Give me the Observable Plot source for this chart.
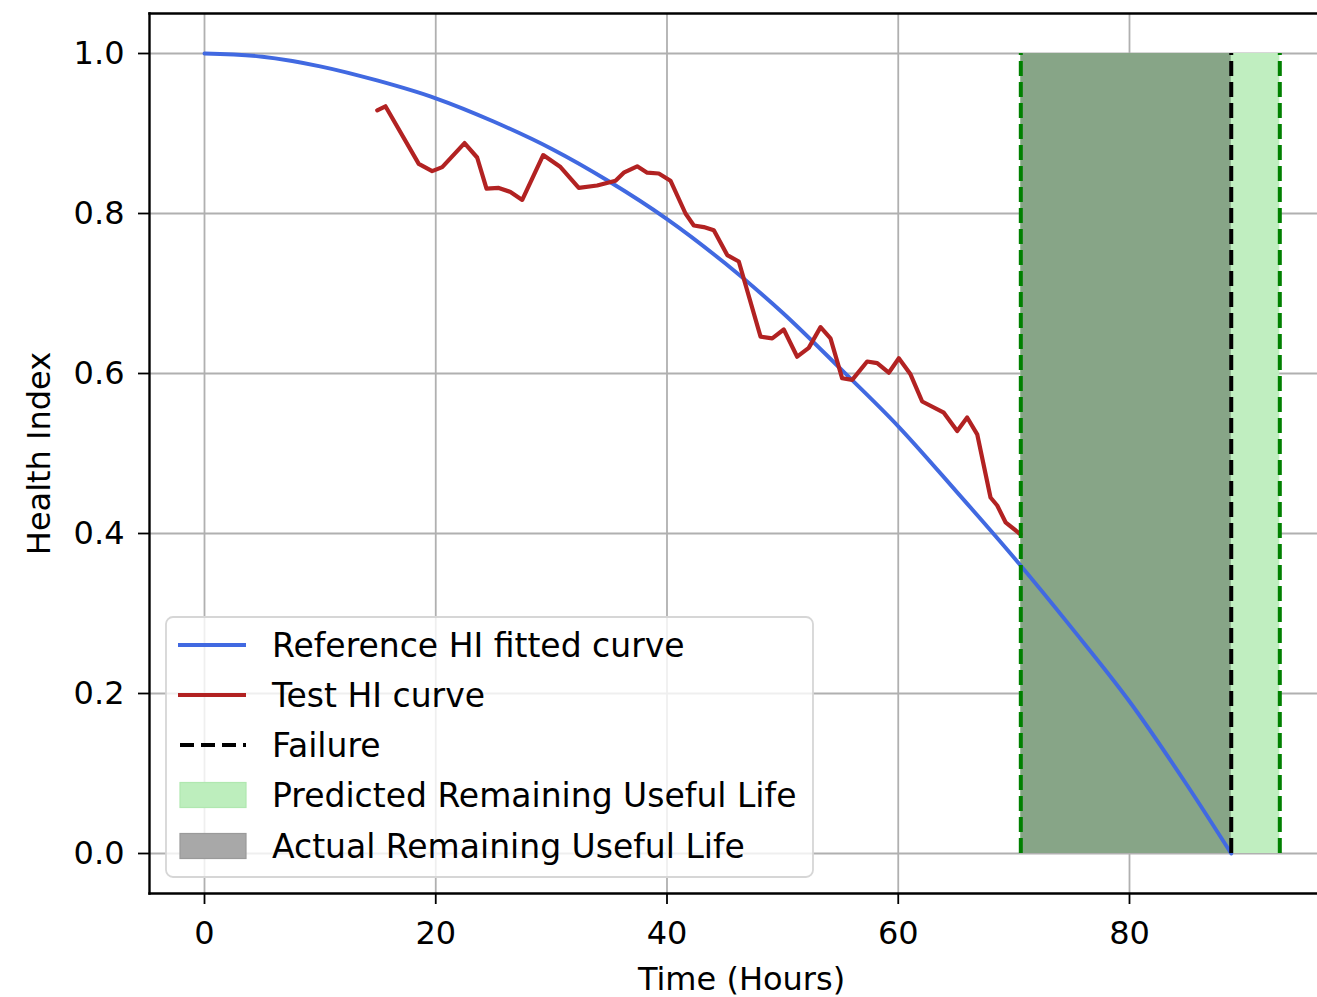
<!DOCTYPE html>
<html>
<head>
<meta charset="utf-8">
<script src="https://cdn.jsdelivr.net/npm/d3@7"></script>
<script src="https://cdn.jsdelivr.net/npm/@observablehq/plot@0.6"></script>
<style>
  html, body { margin: 0; padding: 0; background: #fff; }
  #chart { width: 1317px; height: 997px; }
</style>
</head>
<body>
<div id="chart"></div>
<script>
// ---- Data ----
const refTime = [0, 5, 10, 15, 20, 25, 30, 35, 40, 45, 50, 55, 60, 65, 70, 75, 80, 85, 88.8];
const refHI   = [1.0, 0.996, 0.984, 0.966, 0.944, 0.915, 0.881, 0.84, 0.793, 0.738, 0.676, 0.606, 0.534, 0.453, 0.37, 0.282, 0.19, 0.085, 0.0];

const testTime = [14.94, 15.65, 18.53, 19.69, 20.56, 22.49, 23.58, 24.39, 25.45, 26.46, 27.48, 29.29, 30.79, 32.37, 33.96, 35.55, 36.26, 37.42, 38.29, 39.29, 40.30, 41.60, 42.32, 43.18, 44.05, 45.21, 46.21, 48.09, 49.10, 50.10, 51.26, 52.26, 53.28, 54.14, 55.15, 56.02, 57.31, 58.18, 59.18, 60.05, 61.06, 62.07, 63.94, 65.10, 65.96, 66.83, 67.98, 68.56, 69.28, 70.57];
const testHI   = [0.929, 0.934, 0.862, 0.853, 0.858, 0.888, 0.870, 0.831, 0.832, 0.827, 0.817, 0.873, 0.858, 0.832, 0.835, 0.841, 0.851, 0.859, 0.851, 0.850, 0.841, 0.800, 0.785, 0.783, 0.779, 0.748, 0.740, 0.646, 0.644, 0.655, 0.621, 0.632, 0.658, 0.644, 0.594, 0.592, 0.615, 0.613, 0.601, 0.619, 0.599, 0.565, 0.551, 0.528, 0.545, 0.524, 0.445, 0.435, 0.414, 0.399];

const currentTime = 70.6;    // start of RUL windows
const failureTime = 88.8;    // actual failure
const predictedFailure = 93.0;

const xTicks = [0, 20, 40, 60, 80];
const yTicks = [0.0, 0.2, 0.4, 0.6, 0.8, 1.0];

const xLabel = "Time (Hours)";
const yLabel = "Health Index";
const legendLabels = ["Reference HI fitted curve", "Test HI curve", "Failure", "Predicted Remaining Useful Life", "Actual Remaining Useful Life"];

// ---- Build tables ----
const refData = refTime.map((t, i) => ({t, hi: refHI[i]}));
const testData = testTime.map((t, i) => ({t, hi: testHI[i]}));
const predictedRUL = [{x1: currentTime, x2: predictedFailure, y1: 0, y2: 1}];
const actualRUL = [{x1: currentTime, x2: failureTime, y1: 0, y2: 1}];

const FONT = "DejaVu Sans";
const FS = 32;
const DASH = "15,6";

const chart = Plot.plot({
  width: 1317,
  height: 997,
  marginLeft: 149,
  marginRight: 0,
  marginTop: 13,
  marginBottom: 104,
  style: {fontFamily: FONT, fontSize: FS + "px", color: "#000", background: "#fff", overflow: "visible"},
  x: {domain: [-4.757, 96.26]},
  y: {domain: [-0.05, 1.05]},
  marks: [
    Plot.gridX(xTicks, {stroke: "#b0b0b0", strokeOpacity: 1, strokeWidth: 1.8}),
    Plot.gridY(yTicks, {stroke: "#b0b0b0", strokeOpacity: 1, strokeWidth: 1.8}),
    Plot.rect(predictedRUL, {x1: "x1", x2: "x2", y1: "y1", y2: "y2", fill: "#c0eec0"}),
    Plot.rect(actualRUL, {x1: "x1", x2: "x2", y1: "y1", y2: "y2", fill: "#87a587"}),
    Plot.line(refData, {x: "t", y: "hi", stroke: "#4169e1", strokeWidth: 3.9, curve: "monotone-x"}),
    Plot.line(testData, {x: "t", y: "hi", stroke: "#b22222", strokeWidth: 4.2, curve: "linear", strokeLinejoin: "round"}),
    Plot.ruleX([currentTime, predictedFailure], {y1: 0, y2: 1, stroke: "#008000", strokeWidth: 4, strokeDasharray: DASH}),
    Plot.ruleX([failureTime], {y1: 0, y2: 1, stroke: "#000", strokeWidth: 4, strokeDasharray: DASH}),
    Plot.axisX(xTicks, {tickSize: 11, tickPadding: 17, tickFormat: d => d, stroke: "#000", strokeWidth: 1.8, fontSize: FS, label: null}),
    Plot.axisY(yTicks, {tickSize: 11, tickPadding: 14, tickFormat: d3.format(".1f"), stroke: "#000", strokeWidth: 1.8, fontSize: FS,
      label: yLabel, labelAnchor: "center", labelArrow: "none", labelOffset: 122}),
    Plot.text([xLabel], {frameAnchor: "bottom", text: d => d, dx: 8, dy: 86, lineAnchor: "middle", fontSize: FS, fill: "#000"}),
    Plot.frame({anchor: "left", stroke: "#000", strokeWidth: 2.4}),
    Plot.frame({anchor: "top", stroke: "#000", strokeWidth: 2.4}),
    Plot.frame({anchor: "bottom", stroke: "#000", strokeWidth: 2.4})
  ]
});

document.getElementById("chart").appendChild(chart);

// ---- Legend (inside plot area, lower left) ----
const svg = d3.select(chart);
const lg = svg.append("g").attr("font-family", FONT).attr("font-size", 33).attr("text-anchor", "start");
lg.append("rect").attr("x", 166).attr("y", 617).attr("width", 647).attr("height", 260)
  .attr("rx", 7).attr("fill", "#fff").attr("fill-opacity", 0.8).attr("stroke", "#d6d6d6").attr("stroke-width", 1.8);
const rowY = [645, 695, 745, 795, 846];
const handles = [
  {type: "line", stroke: "#4169e1", w: 3.9},
  {type: "line", stroke: "#b22222", w: 4.2},
  {type: "dash", stroke: "#000", w: 4},
  {type: "patch", fill: "#bdeebd", stroke: "#b0e8b0"},
  {type: "patch", fill: "#a8a8a8", stroke: "#9a9a9a"}
];
legendLabels.forEach((lab, i) => {
  const cy = rowY[i], h = handles[i];
  if (h.type === "line" || h.type === "dash") {
    const l = lg.append("line").attr("x1", 178).attr("x2", 246).attr("y1", cy).attr("y2", cy)
      .attr("stroke", h.stroke).attr("stroke-width", h.w);
    if (h.type === "dash") l.attr("x1", 180).attr("stroke-dasharray", "14,7");
  } else {
    lg.append("rect").attr("x", 180).attr("y", cy - 12.5).attr("width", 66).attr("height", 25)
      .attr("fill", h.fill).attr("stroke", h.stroke).attr("stroke-width", 1.2);
  }
  lg.append("text").attr("x", 272).attr("y", cy).attr("dy", "0.35em").attr("fill", "#000").text(lab);
});
</script>
</body>
</html>
